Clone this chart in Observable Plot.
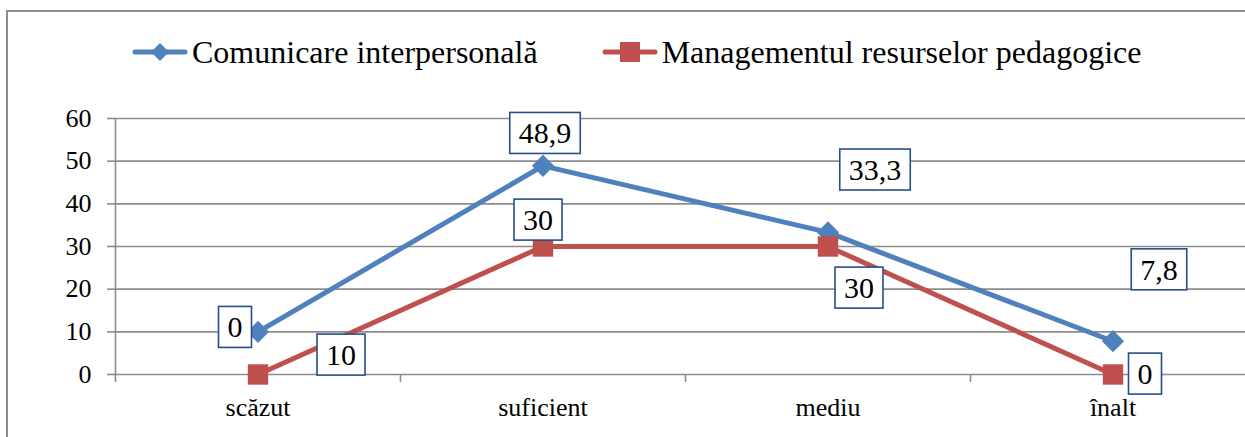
<!DOCTYPE html>
<html>
<head>
<meta charset="utf-8">
<script src="https://cdn.jsdelivr.net/npm/d3@7"></script>
<script src="https://cdn.jsdelivr.net/npm/@observablehq/plot@0.6"></script>
<style>
  html, body { margin: 0; padding: 0; background: #fff; overflow: hidden; }
  body { width: 1300px; height: 437px; position: relative; font-family: "Liberation Serif", "Times New Roman", serif; }
  #frame { position: absolute; left: 6px; top: 10px; width: 1290px; height: 500px; box-sizing: border-box;
           border-left: 2px solid #8c8c8c; border-top: 2px solid #8c8c8c; }
  #legend { position: absolute; left: 132px; top: 36px; height: 32px; display: flex; align-items: center;
            font-size: 32px; line-height: 32px; color: #000; white-space: nowrap; }
  .item { display: flex; align-items: center; }
  .item svg { margin-right: 4px; }
  .item + .item { margin-left: 64px; }
  #chart { position: absolute; left: 0; top: 90px; }
  #chart svg { display: block; }
  #chart text { font-family: "Liberation Serif", "Times New Roman", serif; }
</style>
</head>
<body>
<div id="frame"></div>
<div id="legend"></div>
<div id="chart"></div>
<script>
// Levels on the horizontal axis
const categories = ["scăzut", "suficient", "mediu", "înalt"];
// Series names
const seriesNames = ["Comunicare interpersonală", "Managementul resurselor pedagogice"];
// Percentages per level
const comunicare = [10, 48.9, 33.3, 7.8];
const management = [0, 30, 30, 0];
// Value-axis ticks
const yTicks = [0, 10, 20, 30, 40, 50, 60];

const BLUE = "#4F81BD";
const RED = "#C0504D";
const GRID = "#8c8c8c";
const BOX = "#264f8a";
const SERIF = '"Liberation Serif", "Times New Roman", serif';

const rows = [
  ...comunicare.map((v, i) => ({series: seriesNames[0], i, v})),
  ...management.map((v, i) => ({series: seriesNames[1], i, v}))
];

const fmt = v => String(v).replace(".", ",");

// Data labels: each is anchored at one point and shows one value
const labelSpecs = [
  {at: [comunicare, 0], show: [management, 0], dx: -23, dy: -4},
  {at: [management, 0], show: [comunicare, 0], dx: 83, dy: -19},
  {at: [comunicare, 1], show: [comunicare, 1], dx: 2, dy: -32},
  {at: [management, 1], show: [management, 1], dx: -5, dy: -26},
  {at: [comunicare, 2], show: [comunicare, 2], dx: 47, dy: -62},
  {at: [management, 2], show: [management, 2], dx: 31, dy: 42},
  {at: [comunicare, 3], show: [comunicare, 3], dx: 46, dy: -71},
  {at: [management, 3], show: [management, 3], dx: 32, dy: 0}
];
const labelMarks = labelSpecs.map(s => Plot.text([{i: s.at[1], v: s.at[0][s.at[1]]}], {
  x: "i", y: "v", text: () => fmt(s.show[0][s.show[1]]),
  dx: s.dx, dy: s.dy, fontSize: 30, fontFamily: SERIF, fill: "#000"
}));

const plot = Plot.plot({
  width: 1260,
  height: 347,
  marginTop: 28,
  marginBottom: 63,
  marginLeft: 115,
  marginRight: 5,
  style: {fontFamily: SERIF, fontSize: "26px", color: "#000", background: "transparent", overflow: "visible"},
  x: {domain: [-0.5, categories.length - 0.5]},
  y: {domain: [0, 60]},
  marks: [
    Plot.ruleY(yTicks, {stroke: GRID, strokeWidth: 1.6}),
    Plot.ruleX([-0.5], {y1: 0, y2: 60, stroke: GRID, strokeWidth: 1.6}),
    Plot.axisY({ticks: yTicks, tickSize: 8, tickPadding: 16, stroke: GRID, strokeWidth: 1.6, fill: "#000", fontSize: 26, fontFamily: SERIF, label: null}),
    Plot.axisX({ticks: d3.range(-0.5, categories.length, 1), tickSize: 8, tickFormat: () => "", stroke: GRID, strokeWidth: 1.6, label: null}),
    Plot.axisX({ticks: d3.range(categories.length), tickSize: 0, tickPadding: 23, tickFormat: i => categories[i], fill: "#000", fontSize: 26, fontFamily: SERIF, label: null}),
    Plot.line(rows, {x: "i", y: "v", z: "series", stroke: d => d.series === seriesNames[0] ? BLUE : RED, strokeWidth: 5, strokeLinejoin: "round", strokeLinecap: "round"}),
    Plot.dot(rows.filter(d => d.series === seriesNames[0]), {x: "i", y: "v", symbol: "diamond2", r: 10, fill: BLUE, stroke: "none"}),
    Plot.dot(rows.filter(d => d.series === seriesNames[1]), {x: "i", y: "v", symbol: "square", r: 11.5, fill: RED, stroke: "none"}),
    ...labelMarks
  ]
});
document.getElementById("chart").appendChild(plot);

// Framed label boxes behind each data label (the 30px text marks)
Array.from(plot.querySelectorAll("text"))
  .filter(t => {
    const g = t.closest("g");
    return g && g.getAttribute("font-size") === "30";
  })
  .forEach(t => {
    const b = t.getBBox();
    const padX = 9, padY = 5;
    const rect = document.createElementNS("http://www.w3.org/2000/svg", "rect");
    rect.setAttribute("x", b.x - padX);
    rect.setAttribute("y", b.y - padY + 1);
    rect.setAttribute("width", b.width + 2 * padX);
    rect.setAttribute("height", b.height + 2 * padY - 2);
    rect.setAttribute("fill", "#fff");
    rect.setAttribute("stroke", BOX);
    rect.setAttribute("stroke-width", 1.6);
    const tr = t.getAttribute("transform");
    if (tr) rect.setAttribute("transform", tr);
    t.parentNode.insertBefore(rect, t);
  });

// Legend with line-and-marker swatches
const legend = d3.select("#legend");
[[seriesNames[0], BLUE, "diamond"], [seriesNames[1], RED, "square"]].forEach(([name, color, shape]) => {
  const item = legend.append("div").attr("class", "item");
  const s = item.append("svg").attr("width", 56).attr("height", 24);
  s.append("line").attr("x1", 3).attr("x2", 53).attr("y1", 12).attr("y2", 12)
    .attr("stroke", color).attr("stroke-width", 5).attr("stroke-linecap", "round");
  if (shape === "diamond") {
    s.append("path").attr("d", "M28,3L37,12L28,21L19,12Z").attr("fill", color);
  } else {
    s.append("rect").attr("x", 18).attr("y", 2).attr("width", 20).attr("height", 20).attr("fill", color);
  }
  item.append("span").text(name);
});
</script>
</body>
</html>
